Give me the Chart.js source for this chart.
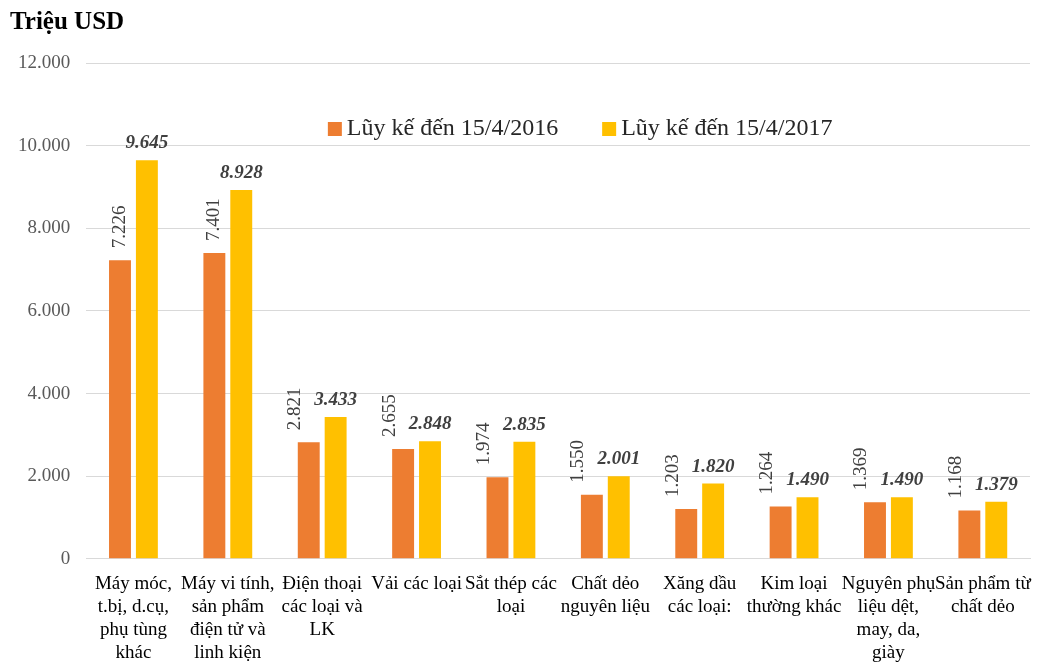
<!DOCTYPE html>
<html>
<head>
<meta charset="utf-8">
<script src="https://cdn.jsdelivr.net/npm/chart.js@4.4.0/dist/chart.umd.min.js"></script>
<style>
  html, body { margin: 0; padding: 0; background: #fff; }
  #wrap { width: 1058px; height: 666px; }
</style>
</head>
<body>
<div id="wrap"><canvas id="chart"></canvas></div>
<script>
// Categories (multi-line labels as on the original)
const categories = [
  ['Máy móc,', 't.bị, d.cụ,', 'phụ tùng', 'khác'],
  ['Máy vi tính,', 'sản phẩm', 'điện tử và', 'linh kiện'],
  ['Điện thoại', 'các loại và', 'LK'],
  ['Vải các loại'],
  ['Sắt thép các', 'loại'],
  ['Chất dẻo', 'nguyên liệu'],
  ['Xăng dầu', 'các loại:'],
  ['Kim loại', 'thường khác'],
  ['Nguyên phụ', 'liệu dệt,', 'may, da,', 'giày'],
  ['Sản phẩm từ', 'chất dẻo']
];

const seriesNames = ['Lũy kế đến 15/4/2016', 'Lũy kế đến 15/4/2017'];
const values2016 = [7226, 7401, 2821, 2655, 1974, 1550, 1203, 1264, 1369, 1168];
const values2017 = [9645, 8928, 3433, 2848, 2835, 2001, 1820, 1490, 1490, 1379];
const yTicks = [0, 2000, 4000, 6000, 8000, 10000, 12000];
const unitTitle = 'Triệu USD';

const SERIF = "'Liberation Serif', 'Times New Roman', serif";

// 12000 -> "12.000"
function fmt(v) {
  return String(v).replace(/\B(?=(\d{3})+(?!\d))/g, '.');
}

// value labels: 2016 vertical, 2017 bold italic; vertical ones move left if they hit the neighbour
const barLabels = {
  id: 'barLabels',
  afterDatasetsDraw(chart) {
    const ctx = chart.ctx;
    const m0 = chart.getDatasetMeta(0).data;
    const m1 = chart.getDatasetMeta(1).data;
    const d0 = chart.data.datasets[0].data;
    const d1 = chart.data.datasets[1].data;
    const fontA = '19px ' + SERIF;
    const fontB = 'italic bold 19px ' + SERIF;
    const gap = 12;
    const half = 7;
    ctx.save();
    ctx.fillStyle = '#404040';
    m1.forEach((bar, j) => {
      const b0 = m0[j];
      const t0 = fmt(d0[j]);
      const t1 = fmt(d1[j]);

      ctx.font = fontB;
      const w1 = ctx.measureText(t1).width;
      const base1 = bar.y - gap;
      const top1 = base1 - 14;
      const left1 = bar.x - w1 / 2;
      ctx.textAlign = 'center';
      ctx.textBaseline = 'alphabetic';
      ctx.fillText(t1, bar.x, base1);

      ctx.font = fontA;
      const w0 = ctx.measureText(t0).width;
      const bot0 = b0.y - gap;
      const top0 = bot0 - w0;
      let x0 = b0.x;
      if (top0 < base1 && bot0 > top1 && x0 + half > left1 - 12) {
        x0 = left1 - 12 - half;
      }
      ctx.save();
      ctx.translate(x0, bot0);
      ctx.rotate(-Math.PI / 2);
      ctx.textAlign = 'left';
      ctx.textBaseline = 'middle';
      ctx.fillText(t0, 0, 0);
      ctx.restore();
    });
    ctx.restore();
  }
};

// unit title top-left and legend drawn inside the plot area
const innerLegend = {
  id: 'innerLegend',
  afterDraw(chart) {
    const ctx = chart.ctx;
    const area = chart.chartArea;
    ctx.save();
    ctx.font = 'bold 25px ' + SERIF;
    ctx.fillStyle = '#000';
    ctx.textAlign = 'left';
    ctx.textBaseline = 'middle';
    ctx.fillText(unitTitle, 10, 23);

    let x = area.left + area.width * 0.256;
    const y = area.top + 66;
    ctx.font = '24px ' + SERIF;
    chart.data.datasets.forEach(ds => {
      ctx.fillStyle = ds.backgroundColor;
      ctx.fillRect(x, y - 7, 14, 14);
      ctx.fillStyle = '#262626';
      ctx.fillText(ds.label, x + 19, y);
      x += 19 + ctx.measureText(ds.label).width + 44;
    });
    ctx.restore();
  }
};

const ctx = document.getElementById('chart').getContext('2d');
new Chart(ctx, {
  type: 'bar',
  data: {
    labels: categories,
    datasets: [
      {
        label: seriesNames[0],
        data: values2016,
        backgroundColor: '#ED7D31',
        categoryPercentage: 0.57,
        barPercentage: 0.815
      },
      {
        label: seriesNames[1],
        data: values2017,
        backgroundColor: '#FFC000',
        categoryPercentage: 0.57,
        barPercentage: 0.815
      }
    ]
  },
  options: {
    responsive: true,
    maintainAspectRatio: false,
    animation: false,
    layout: { padding: { left: 2, right: 28, top: 63, bottom: -12 } },
    plugins: {
      legend: { display: false },
      tooltip: { enabled: false },
      title: { display: false }
    },
    scales: {
      x: {
        grid: { display: false, drawTicks: false },
        border: { color: '#d9d9d9' },
        ticks: {
          autoSkip: false,
          maxRotation: 0,
          minRotation: 0,
          color: '#000',
          padding: 14,
          font: { family: SERIF, size: 19, lineHeight: 1.2 }
        }
      },
      y: {
        min: 0,
        max: 12000,
        afterBuildTicks(axis) {
          axis.ticks = yTicks.map(v => ({ value: v }));
        },
        grid: { color: '#d9d9d9', drawTicks: false },
        border: { display: false },
        ticks: {
          color: '#595959',
          padding: 16,
          font: { family: SERIF, size: 19 },
          callback: v => fmt(v)
        }
      }
    }
  },
  plugins: [barLabels, innerLegend]
});
</script>
</body>
</html>
